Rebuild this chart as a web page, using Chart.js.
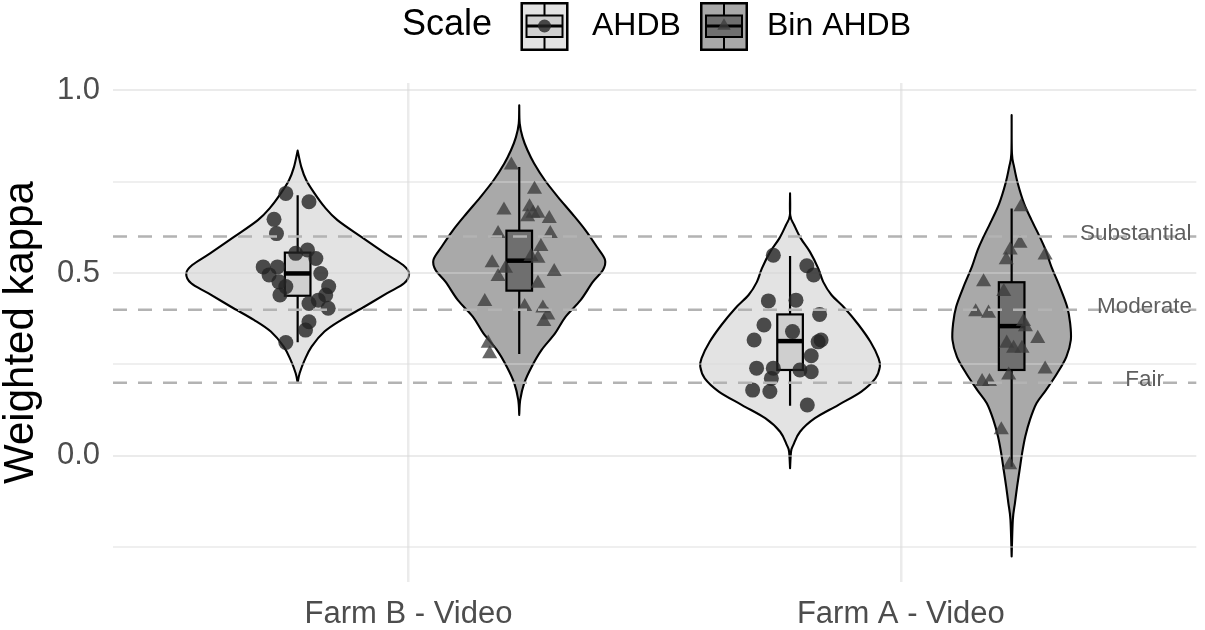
<!DOCTYPE html>
<html>
<head>
<meta charset="utf-8">
<title>Weighted kappa by farm and scale</title>
<script src="https://cdn.jsdelivr.net/npm/chart.js@4.4.1/dist/chart.umd.min.js"></script>
<style>
  html, body { margin: 0; padding: 0; background: #fff; }
  #wrap { width: 1205px; height: 630px; }
</style>
</head>
<body>
<div id="wrap"><canvas id="chart" width="1205" height="630"></canvas></div>
<script>
const FONT = "'Liberation Sans', Arial, sans-serif";

const categories = ["Farm B - Video", "Farm A - Video"];
const scaleNames = ["AHDB", "Bin AHDB"];

const yTicks = [-0.25, 0, 0.25, 0.5, 0.75, 1.0];
const yTickLabels = ["", "0.0", "", "0.5", "", "1.0"];

// agreement bands
const refValues = [0.6, 0.4, 0.2];
const refLabels = ["Substantial", "Moderate", "Fair"];

// violin outlines: value and half width (category units)
const fbAhdbViolinY = [0.835, 0.790, 0.754, 0.718, 0.681, 0.645, 0.599, 0.554, 0.522, 0.499, 0.472, 0.445, 0.408, 0.372, 0.340, 0.299, 0.262, 0.226, 0.200];
const fbAhdbViolinW = [0, 0.0075, 0.0176, 0.0343, 0.0545, 0.0808, 0.1293, 0.1778, 0.2141, 0.2263, 0.2162, 0.1818, 0.1354, 0.0889, 0.0545, 0.0283, 0.0141, 0.0040, 0];
const fbBinViolinY = [0.959, 0.909, 0.872, 0.836, 0.800, 0.754, 0.708, 0.663, 0.617, 0.572, 0.536, 0.508, 0.476, 0.426, 0.381, 0.335, 0.290, 0.244, 0.199, 0.153, 0.112];
const fbBinViolinW = [0, 0.001, 0.0067, 0.0168, 0.0303, 0.0521, 0.0788, 0.1071, 0.1347, 0.1576, 0.1743, 0.1697, 0.1495, 0.1246, 0.0943, 0.0727, 0.0455, 0.0253, 0.0101, 0.002, 0];
const faAhdbViolinY = [0.718, 0.658, 0.631, 0.595, 0.558, 0.513, 0.476, 0.440, 0.404, 0.358, 0.312, 0.267, 0.244, 0.212, 0.176, 0.139, 0.103, 0.066, 0.030, 0.012, -0.034];
const faAhdbViolinW = [0, 0.0004, 0.0085, 0.0218, 0.0404, 0.0572, 0.0673, 0.0842, 0.1111, 0.1394, 0.1632, 0.1798, 0.1824, 0.1733, 0.1448, 0.0976, 0.0505, 0.0202, 0.0067, 0.002, 0];
const faBinViolinY = [0.932, 0.827, 0.790, 0.745, 0.690, 0.645, 0.599, 0.563, 0.517, 0.463, 0.408, 0.363, 0.317, 0.271, 0.226, 0.180, 0.144, 0.098, 0.053, 0.007, -0.038, -0.084, -0.129, -0.175, -0.275];
const faBinViolinW = [0, 0.0006, 0.0051, 0.0125, 0.0253, 0.0404, 0.0572, 0.0691, 0.0808, 0.0976, 0.1127, 0.1188, 0.1202, 0.1111, 0.0925, 0.0697, 0.0505, 0.037, 0.0277, 0.0212, 0.0162, 0.0111, 0.0067, 0.0024, 0];

// box stats, order: Farm B AHDB, Farm B Bin, Farm A AHDB, Farm A Bin
const boxLow = [0.311, 0.279, 0.137, -0.030];
const boxQ1 = [0.438, 0.452, 0.235, 0.235];
const boxMedian = [0.499, 0.534, 0.314, 0.355];
const boxQ3 = [0.556, 0.616, 0.387, 0.475];
const boxHigh = [0.713, 0.790, 0.547, 0.677];

// jittered observations
const fbAhdbPtX = [0.751, 0.798, 0.727, 0.732, 0.771, 0.795, 0.812, 0.705, 0.734, 0.717, 0.822, 0.737, 0.751, 0.838, 0.832, 0.739, 0.798, 0.817, 0.837, 0.798, 0.791, 0.751];
const fbAhdbPtY = [0.718, 0.695, 0.647, 0.608, 0.554, 0.563, 0.540, 0.517, 0.517, 0.495, 0.499, 0.476, 0.463, 0.463, 0.440, 0.440, 0.417, 0.426, 0.404, 0.367, 0.344, 0.310];
const fbBinPtX = [1.209, 1.256, 1.194, 1.246, 1.253, 1.263, 1.286, 1.242, 1.182, 1.288, 1.269, 1.170, 1.249, 1.263, 1.197, 1.182, 1.296, 1.263, 1.155, 1.236, 1.273, 1.283, 1.275, 1.162, 1.165];
const fbBinPtY = [0.795, 0.729, 0.672, 0.681, 0.663, 0.663, 0.649, 0.654, 0.608, 0.608, 0.572, 0.528, 0.545, 0.540, 0.513, 0.490, 0.504, 0.472, 0.422, 0.408, 0.404, 0.385, 0.367, 0.308, 0.279];
const faAhdbPtX = [1.741, 1.809, 1.823, 1.731, 1.787, 1.835, 1.722, 1.780, 1.702, 1.838, 1.832, 1.818, 1.707, 1.741, 1.795, 1.818, 1.737, 1.699, 1.734, 1.810];
const faAhdbPtY = [0.549, 0.520, 0.495, 0.424, 0.426, 0.387, 0.358, 0.340, 0.317, 0.317, 0.312, 0.274, 0.240, 0.240, 0.235, 0.230, 0.212, 0.180, 0.176, 0.139];
const faBinPtX = [2.244, 2.242, 2.222, 2.214, 2.293, 2.168, 2.209, 2.152, 2.178, 2.249, 2.253, 2.278, 2.215, 2.229, 2.246, 2.293, 2.219, 2.165, 2.180, 2.204, 2.221];
const faBinPtY = [0.681, 0.581, 0.563, 0.536, 0.549, 0.476, 0.449, 0.394, 0.390, 0.367, 0.353, 0.321, 0.308, 0.294, 0.294, 0.237, 0.221, 0.203, 0.203, 0.071, -0.025];

const groupCategory = [0, 0, 1, 1];
const groupScale = [0, 1, 0, 1];
const violinY = [fbAhdbViolinY, fbBinViolinY, faAhdbViolinY, faBinViolinY];
const violinW = [fbAhdbViolinW, fbBinViolinW, faAhdbViolinW, faBinViolinW];
const pointsX = [fbAhdbPtX, fbBinPtX, faAhdbPtX, faBinPtX];
const pointsY = [fbAhdbPtY, fbBinPtY, faAhdbPtY, faBinPtY];

// styling
const DODGE = 0.225;
const BOX_HALF = 0.026;
const violinFill = ["#e3e3e3", "#a9a9a9"];
const boxFill = ["#cfcfcf", "#6f6f6f"];
const pointColor = ["rgba(35,35,35,0.8)", "rgba(60,60,60,0.78)"];
const pointShape = ["circle", "triangle"];
const pointSize = [7.5, 8.7];
const refLabelX = [2.477, 2.495, 2.495];

const centerOf = g => groupCategory[g] + 1 + (groupScale[g] === 0 ? -DODGE : DODGE);

function curveThrough(ctx, p) {
  const n = p.length;
  ctx.lineTo(p[0][0], p[0][1]);
  for (let i = 0; i < n - 1; i++) {
    const p0 = p[Math.max(i - 1, 0)], p1 = p[i], p2 = p[i + 1], p3 = p[Math.min(i + 2, n - 1)];
    ctx.bezierCurveTo(
      p1[0] + (p2[0] - p0[0]) / 6, p1[1] + (p2[1] - p0[1]) / 6,
      p2[0] - (p3[0] - p1[0]) / 6, p2[1] - (p3[1] - p1[1]) / 6,
      p2[0], p2[1]);
  }
}

// violins go under the grid, like the original
const violinPlugin = {
  id: "violins",
  beforeDraw(chart) {
    const { ctx, scales: { x, y } } = chart;
    violinY.forEach((ys, g) => {
      const ws = violinW[g], c = centerOf(g);
      const right = ys.map((v, i) => [x.getPixelForValue(c + ws[i]), y.getPixelForValue(v)]);
      const left = ys.map((v, i) => [x.getPixelForValue(c - ws[i]), y.getPixelForValue(v)]).reverse();
      ctx.save();
      ctx.beginPath();
      ctx.moveTo(right[0][0], right[0][1]);
      curveThrough(ctx, right);
      curveThrough(ctx, left);
      ctx.closePath();
      ctx.fillStyle = violinFill[groupScale[g]];
      ctx.fill();
      ctx.lineWidth = 2.1;
      ctx.lineJoin = "round";
      ctx.strokeStyle = "#000";
      ctx.stroke();
      ctx.restore();
    });
  }
};

const boxPlugin = {
  id: "boxes",
  beforeDatasetsDraw(chart) {
    const { ctx, scales: { x, y } } = chart;
    ctx.save();
    ctx.strokeStyle = "#000";
    boxMedian.forEach((m, g) => {
      const c = centerOf(g);
      const cx = x.getPixelForValue(c);
      const l = x.getPixelForValue(c - BOX_HALF), r = x.getPixelForValue(c + BOX_HALF);
      const top = y.getPixelForValue(boxQ3[g]), bot = y.getPixelForValue(boxQ1[g]);
      ctx.lineWidth = 2.2;
      ctx.beginPath();
      ctx.moveTo(cx, y.getPixelForValue(boxHigh[g])); ctx.lineTo(cx, top);
      ctx.moveTo(cx, bot); ctx.lineTo(cx, y.getPixelForValue(boxLow[g]));
      ctx.stroke();
      ctx.fillStyle = boxFill[groupScale[g]];
      ctx.fillRect(l, top, r - l, bot - top);
      ctx.strokeRect(l, top, r - l, bot - top);
      ctx.lineWidth = 4.5;
      ctx.beginPath();
      const my = y.getPixelForValue(m);
      ctx.moveTo(l, my); ctx.lineTo(r, my);
      ctx.stroke();
    });
    ctx.restore();
  }
};

const refPlugin = {
  id: "refLines",
  afterDatasetsDraw(chart) {
    const { ctx, chartArea, scales: { x, y } } = chart;
    ctx.save();
    refValues.forEach((v, i) => {
      const py = y.getPixelForValue(v);
      ctx.setLineDash([14, 11]);
      ctx.strokeStyle = "#b3b3b3";
      ctx.lineWidth = 2.5;
      ctx.beginPath();
      ctx.moveTo(chartArea.left, py);
      ctx.lineTo(chartArea.right, py);
      ctx.stroke();
      ctx.setLineDash([]);
      ctx.font = "22.5px " + FONT;
      ctx.fillStyle = "#5f5f5f";
      ctx.textAlign = "center";
      ctx.textBaseline = "alphabetic";
      ctx.fillText(refLabels[i], x.getPixelForValue(refLabelX[i]), py + 3);
    });
    ctx.restore();
  }
};

function drawKey(ctx, s, left, top) {
  const w = 48, h = 49, cx = left + w / 2;
  ctx.fillStyle = violinFill[s];
  ctx.fillRect(left, top, w, h);
  ctx.lineWidth = 2.5;
  ctx.strokeStyle = "#000";
  ctx.strokeRect(left + 1.25, top + 1.25, w - 2.5, h - 2.5);
  ctx.lineWidth = 2;
  ctx.beginPath();
  ctx.moveTo(cx, top + 2); ctx.lineTo(cx, top + h - 2);
  ctx.stroke();
  ctx.fillStyle = boxFill[s];
  ctx.fillRect(left + 6, top + 13.5, w - 12, 21.5);
  ctx.strokeRect(left + 6, top + 13.5, w - 12, 21.5);
  ctx.lineWidth = 3;
  ctx.beginPath();
  ctx.moveTo(left + 6, top + 24); ctx.lineTo(left + w - 6, top + 24);
  ctx.stroke();
  ctx.fillStyle = pointColor[s];
  Chart.helpers.drawPoint(ctx, { pointStyle: pointShape[s], radius: pointSize[s] - 1, rotation: 0, borderWidth: 0 }, cx, top + 24);
}

const legendPlugin = {
  id: "scaleLegend",
  afterDraw(chart) {
    const { ctx } = chart;
    ctx.save();
    ctx.textBaseline = "alphabetic";
    ctx.textAlign = "left";
    ctx.fillStyle = "#000";
    ctx.font = "36px " + FONT;
    ctx.fillText("Scale", 402, 35);
    const keyLeft = [520.5, 700];
    const textLeft = [592, 767];
    scaleNames.forEach((name, s) => {
      drawKey(ctx, s, keyLeft[s], 2);
      ctx.fillStyle = "#000";
      ctx.font = "32px " + FONT;
      ctx.fillText(name, textLeft[s], 35);
    });
    ctx.restore();
  }
};

Chart.defaults.font.family = FONT;

const datasets = pointsX.map((xs, g) => ({
  label: categories[groupCategory[g]] + " " + scaleNames[groupScale[g]],
  data: xs.map((v, i) => ({ x: v, y: pointsY[g][i] })),
  pointStyle: pointShape[groupScale[g]],
  pointRadius: pointSize[groupScale[g]],
  pointBackgroundColor: pointColor[groupScale[g]],
  pointBorderWidth: 0,
  showLine: false
}));

new Chart(document.getElementById("chart"), {
  type: "scatter",
  data: { datasets },
  options: {
    responsive: false,
    animation: false,
    devicePixelRatio: 1,
    layout: { padding: { top: 83, right: 3, left: 0, bottom: 0 } },
    plugins: { legend: { display: false }, tooltip: { enabled: false } },
    scales: {
      x: {
        type: "linear",
        min: 0.4,
        max: 2.6,
        afterBuildTicks: s => { s.ticks = categories.map((c, i) => ({ value: i + 1 })); },
        afterFit: s => { s.height = 48; s.paddingLeft = 0; s.paddingRight = 0; },
        border: { display: false },
        grid: { color: "rgba(212,212,212,0.47)", lineWidth: 2.5, drawTicks: false },
        ticks: {
          autoSkip: false,
          maxRotation: 0,
          padding: 14,
          color: "#4d4d4d",
          font: { size: 31 },
          callback: (v, i) => categories[i]
        }
      },
      y: {
        type: "linear",
        min: -0.345,
        max: 1.02,
        afterBuildTicks: s => { s.ticks = yTicks.map(v => ({ value: v })); },
        afterFit: s => { s.width = 113; s.paddingTop = 0; s.paddingBottom = 0; },
        border: { display: false },
        grid: {
          drawTicks: false,
          lineWidth: 2,
          color: c => yTickLabels[c.index] ? "rgba(212,212,212,0.47)" : "rgba(218,218,218,0.42)"
        },
        ticks: {
          autoSkip: false,
          padding: 13,
          color: "#4d4d4d",
          font: { size: 31 },
          callback: (v, i) => yTickLabels[i]
        },
        title: {
          display: true,
          text: "Weighted kappa",
          color: "#000",
          font: { size: 42, lineHeight: 1 },
          padding: { top: 0, bottom: 0 }
        }
      }
    }
  },
  plugins: [violinPlugin, boxPlugin, refPlugin, legendPlugin]
});
</script>
</body>
</html>
